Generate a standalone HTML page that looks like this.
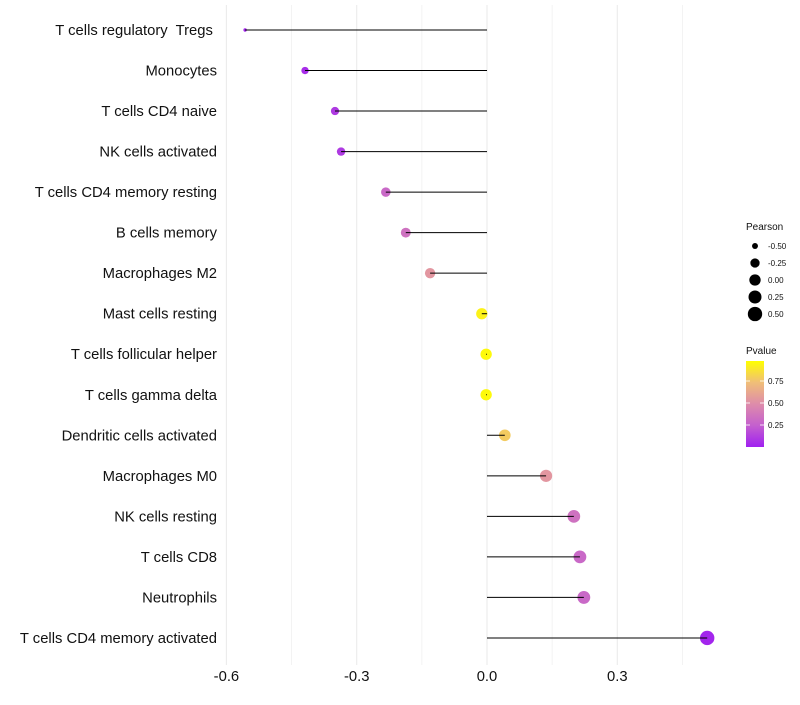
<!DOCTYPE html>
<html><head><meta charset="utf-8"><style>
body{margin:0;background:#fff;font-family:"Liberation Sans",sans-serif;}
svg text{font-family:"Liberation Sans",sans-serif;white-space:pre;}
</style></head><body>
<svg id="chart" width="800" height="700" viewBox="0 0 800 700"></svg>
<script>
const categories=["T cells regulatory  Tregs ","Monocytes","T cells CD4 naive","NK cells activated","T cells CD4 memory resting","B cells memory","Macrophages M2","Mast cells resting","T cells follicular helper","T cells gamma delta","Dendritic cells activated","Macrophages M0","NK cells resting","T cells CD8","Neutrophils","T cells CD4 memory activated"];
const pearson=[-0.557,-0.419,-0.35,-0.336,-0.233,-0.187,-0.131,-0.012,-0.002,-0.002,0.041,0.136,0.2,0.214,0.223,0.507];
const pvalue=[0.02,0.05,0.1,0.1,0.3,0.35,0.55,0.95,0.98,0.98,0.8,0.55,0.35,0.3,0.3,0.02];
const xTicks=[-0.6,-0.3,0.0,0.3];
const xTickLabels=["-0.6","-0.3","0.0","0.3"];
const xMinor=[-0.45,-0.15,0.15,0.45];
const sizeLegend=[-0.5,-0.25,0,0.25,0.5];
const sizeLegendLabels=["-0.50","-0.25","0.00","0.25","0.50"];
const pTicks=[0.25,0.5,0.75];
const pTickLabels=["0.25","0.50","0.75"];

const NS="http://www.w3.org/2000/svg";
const svg=document.getElementById('chart');
function el(t,a,p){const e=document.createElementNS(NS,t);for(const k in a)e.setAttribute(k,a[k]);(p||svg).appendChild(e);return e;}
const xS=v=>487+v*434.3;
const yS=i=>30+i*40.53;
const pMin=Math.min(...pearson),pMax=Math.max(...pearson);
const rS=v=>{const t=Math.max(0,Math.min(1,(v-pMin)/(pMax-pMin)));return 1.7+5.5*Math.sqrt(t);};
const stops=[[0,[160,32,240]],[0.25,[196,96,206]],[0.5,[222,140,170]],[0.75,[240,190,120]],[1,[255,255,0]]];
function col(p){for(let i=1;i<stops.length;i++){if(p<=stops[i][0]){const a=stops[i-1],b=stops[i],t=(p-a[0])/(b[0]-a[0]);return 'rgb('+a[1].map((c,j)=>Math.round(c+(b[1][j]-c)*t)).join(',')+')';}}return 'rgb(255,255,0)';}

const grid=el('g',{});
xMinor.forEach(v=>{const l=el('line',{x1:xS(v),x2:xS(v),y1:5,y2:665,stroke:'#f0f0f0','stroke-width':0.8},grid);});
xTicks.forEach((v,i)=>{const l=el('line',{x1:xS(v),x2:xS(v),y1:5,y2:665,stroke:'#ebebeb','stroke-width':1.1},grid);
const t=el('text',{x:xS(v),y:681,'text-anchor':'middle','font-size':14.8,fill:'#111'});t.textContent=xTickLabels[i];});
categories.forEach((c,i)=>{const y=yS(i);
const t=el('text',{x:217,y:y+5,'text-anchor':'end','font-size':14.8,fill:'#111'});t.textContent=c;
const d=el('circle',{cx:xS(pearson[i]),cy:y,r:rS(pearson[i]),fill:col(pvalue[i])});
const l=el('line',{x1:xS(0),x2:xS(pearson[i]),y1:y,y2:y,stroke:'#000','stroke-width':1});});
const lt=el('text',{x:746,y:230,'font-size':10,fill:'#111'});lt.textContent='Pearson';
sizeLegend.forEach((v,i)=>{const y=246+i*17;const c=el('circle',{cx:755,cy:y,r:rS(v),fill:'#000'});
const t=el('text',{x:768,y:y+3,'font-size':8,fill:'#111'});t.textContent=sizeLegendLabels[i];});
const pt=el('text',{x:746,y:354,'font-size':10,fill:'#111'});pt.textContent='Pvalue';
const defs=el('defs',{});const g=el('linearGradient',{id:'pg',x1:0,y1:1,x2:0,y2:0},defs);
stops.forEach(s=>el('stop',{offset:s[0],'stop-color':'rgb('+s[1].join(',')+')'},g));
const cb=el('rect',{x:746,y:361,width:18,height:86,fill:'url(#pg)'});
const pY=p=>447-p*88;
pTicks.forEach((p,i)=>{el('line',{x1:746,x2:750,y1:pY(p),y2:pY(p),stroke:'#fff','stroke-width':0.8});el('line',{x1:760,x2:764,y1:pY(p),y2:pY(p),stroke:'#fff','stroke-width':0.8});
const t=el('text',{x:768,y:pY(p)+3,'font-size':8,fill:'#111'});t.textContent=pTickLabels[i];});
</script>
</body></html>
